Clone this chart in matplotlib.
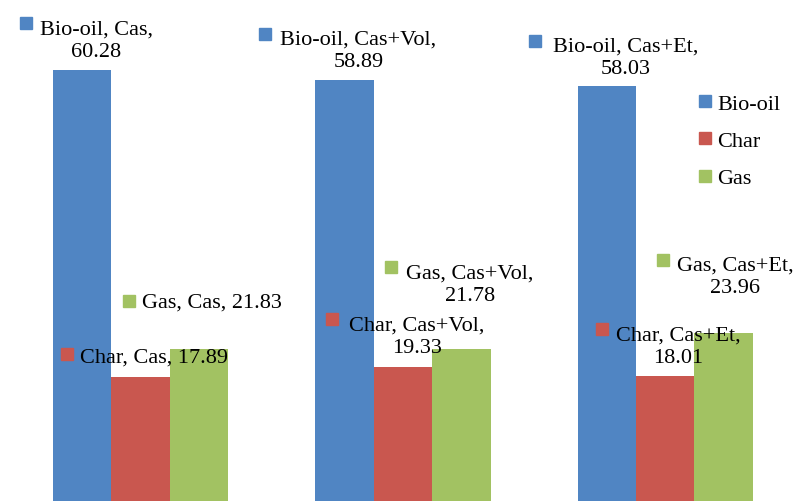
import numpy as np
import matplotlib.pyplot as plt
from matplotlib.lines import Line2D
from matplotlib.transforms import ScaledTranslation

# Data
catalysts = ["Cas", "Cas+Vol", "Cas+Et"]
products = ["Bio-oil", "Char", "Gas"]
bio_oil = [60.28, 58.89, 58.03]
char = [17.89, 19.33, 18.01]
gas = [21.83, 21.78, 23.96]

colors = {"Bio-oil": "#5085C3", "Char": "#C9574F", "Gas": "#A2C262"}

plt.rcParams['font.family'] = ['Liberation Serif', 'DejaVu Serif']
plt.rcParams['font.size'] = 16

fig = plt.figure(figsize=(7.94, 5.02), dpi=100)
W, H = 794, 502
# plot area; the zero line sits just below the bottom edge
ax = fig.add_axes([9.25 / W, -6 / H, 787.2 / W, 508 / H])
ax.set_xlim(-0.5, 2.5)
ax.set_ylim(0, 508 / 7.249)
ax.axis('off')

x = np.arange(len(catalysts))
bar_width = 0.2229
series = [bio_oil, char, gas]
for i, (name, values) in enumerate(zip(products, series)):
    ax.bar(x + (i - 1) * bar_width, values, width=bar_width,
           color=colors[name], label=name)

# label placement per bar (pixels): text center / first baseline, key marker
placement = {
    ("Bio-oil", 0): ((14.5, 39), (-56, 47.5), True),
    ("Bio-oil", 1): ((14, 39), (-79.4, 46.5), True),
    ("Bio-oil", 2): ((19.3, 38.3), (-71.75, 45.3), True),
    ("Char", 0): ((14, 15.3), (-73.5, 23.8), False),
    ("Char", 1): ((14.15, 39.9), (-70.85, 47.9), True),
    ("Char", 2): ((12.75, 39.4), (-63.75, 47.4), True),
    ("Gas", 0): ((13, 41.8), (-70, 47.8), False),
    ("Gas", 1): ((8.65, 74.1), (-70.35, 82.1), True),
    ("Gas", 2): ((11.5, 66.3), (-61, 73.3), True),
}
line_step = 25.0  # pixels between the two lines of a wrapped label

for i, (name, values) in enumerate(zip(products, series)):
    for j, v in enumerate(values):
        xb = x[j] + (i - 1) * bar_width
        (tdx, tdy), (mdx, mdy), wrap = placement[(name, j)]
        sep = ",\n" if wrap else ", "
        label = f"{name}, {catalysts[j]}{sep}{v:.2f}"
        # baseline alignment uses the last line
        if wrap:
            tdy -= line_step
        ax.annotate(label, xy=(xb, v), xytext=(tdx, tdy),
                    textcoords='offset pixels', ha='center', va='baseline',
                    multialignment='center', linespacing=1.24, color='black')
        ax.plot([xb], [v], marker='s', markersize=8.0, color=colors[name],
                linestyle='none', clip_on=False,
                transform=ax.transData + ScaledTranslation(
                    mdx / 100, mdy / 100, fig.dpi_scale_trans))

handles = [Line2D([], [], marker='s', markersize=8.0, linestyle='none',
                  color=colors[p]) for p in products]
ax.legend(handles, products, loc='upper left',
          bbox_to_anchor=(697 / W, 1 - 94 / H), bbox_transform=fig.transFigure,
          frameon=False, borderpad=0, handlelength=0.7, handletextpad=0.2,
          labelspacing=0.76, borderaxespad=0)

fig.savefig("out.png", dpi=100)
